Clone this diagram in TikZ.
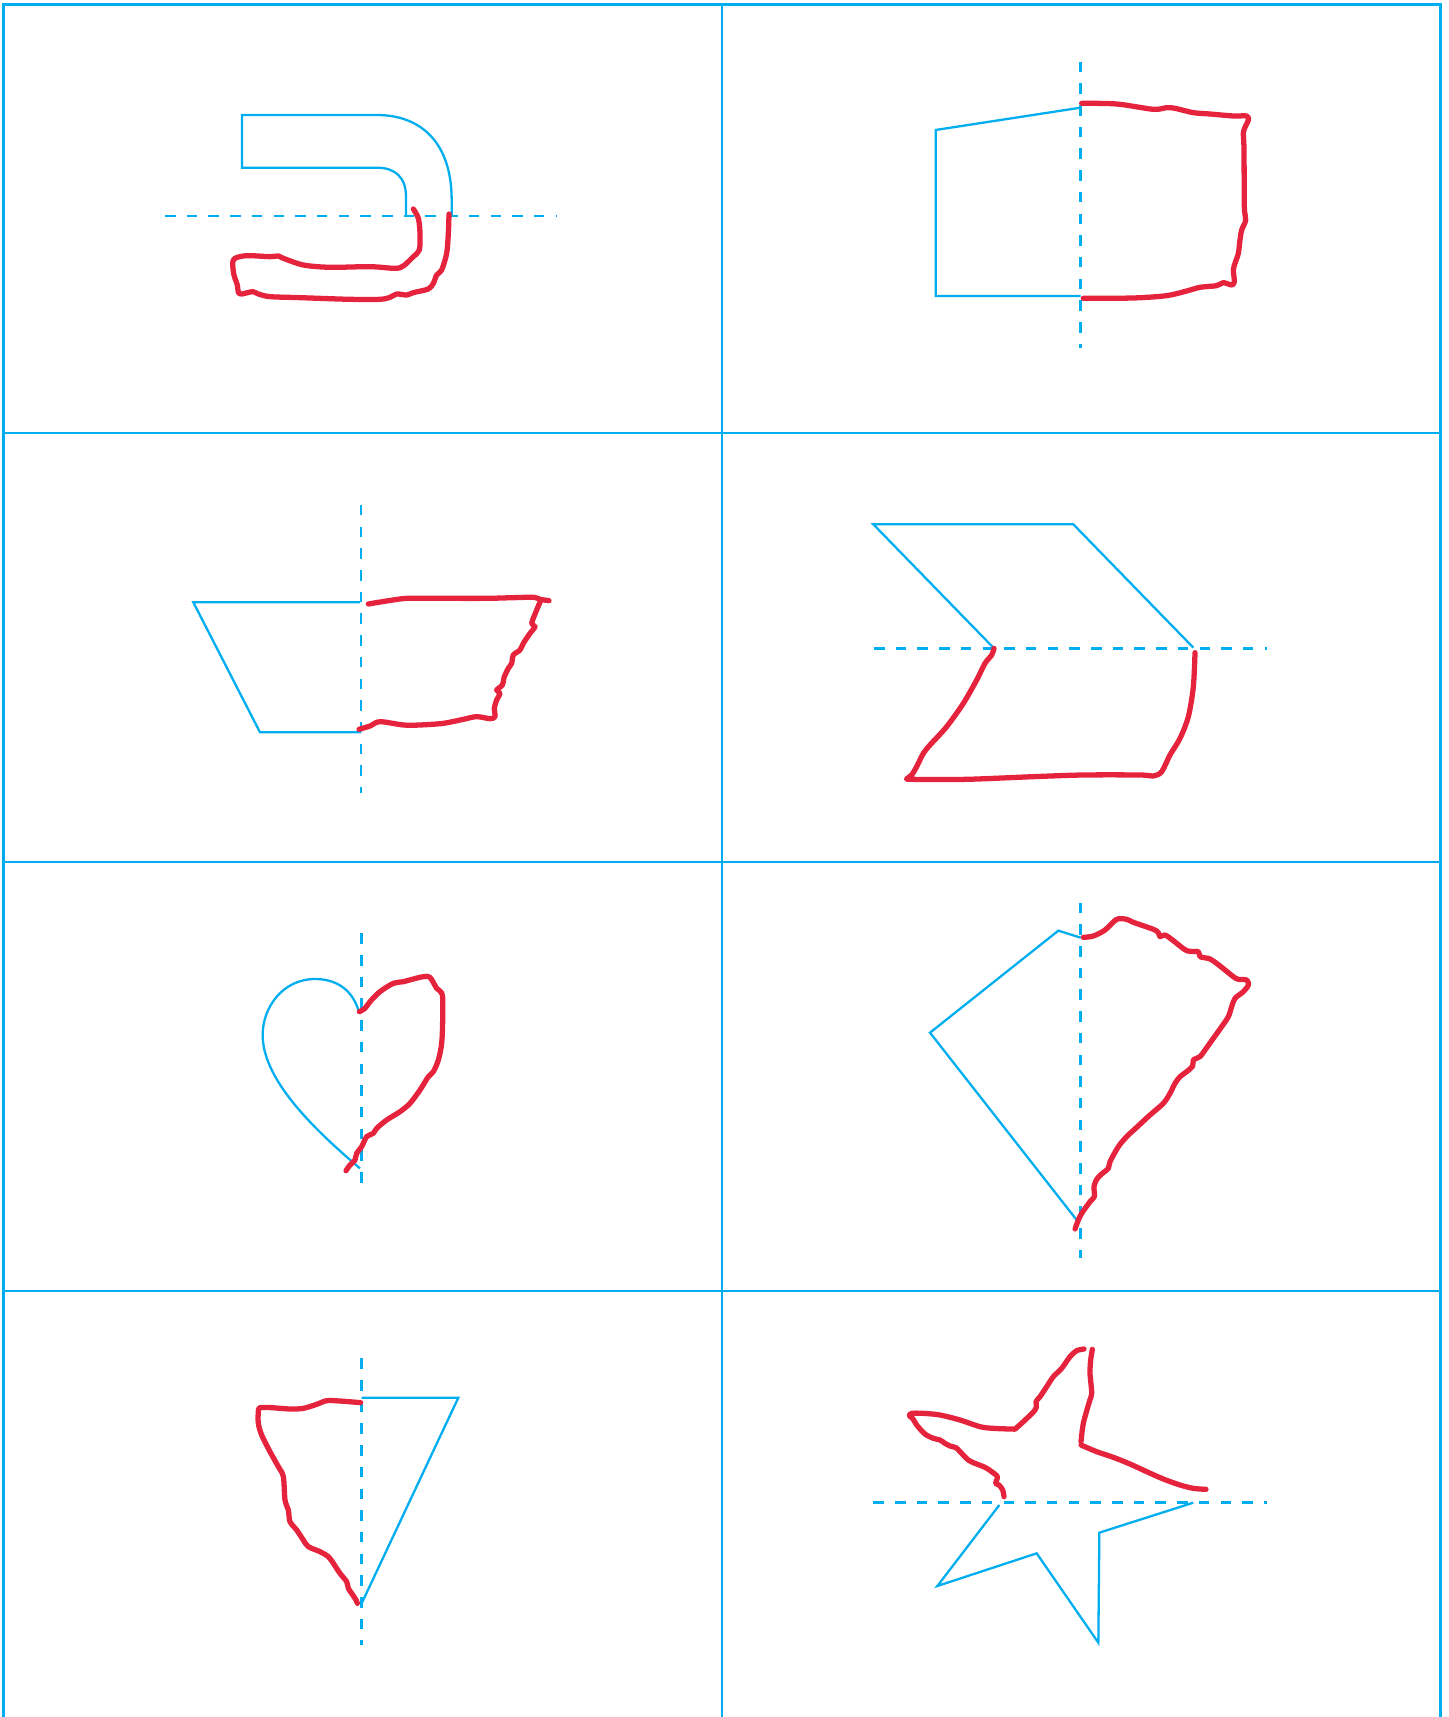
\documentclass[tikz,border=0pt]{standalone}
\usepackage{tikz}
\definecolor{SymCyan}{RGB}{0,174,239}
\definecolor{SymRed}{RGB}{230,35,60}
\tikzset{
  sym/grid/.style={draw=SymCyan, line width=0.8pt},
  sym/axis/.style={draw=SymCyan, line width=0.8pt, dash pattern=on 1.05mm off 1.12mm},
  sym/given/.style={draw=SymCyan, line width=0.65pt, line join=miter},
  sym/drawn/.style={draw=SymRed, line width=1.5pt, line cap=round, line join=round}
}

\begin{document}
\begin{tikzpicture}[x=0.1mm,y=-0.1mm]
  \useasboundingbox (0,0) rectangle (1448,1717);
  % sheet grid
  \draw[sym/grid] (3.5,1717) -- (3.5,4.5) -- (1440.7,4.5) -- (1440.7,1717);
  \draw[sym/grid] (722,4.5) -- (722,1717);
  \foreach \y in {433,862,1291}
    \draw[sym/grid] (3.5,\y) -- (1440.7,\y);

  % hook
  \begin{scope}[shift={(150,90)},scale=1/3]
    \draw[sym/axis] (45,378) -- (1220,378);
    \draw[sym/given] (768,378) -- (768,320) .. controls (768,262) and (735,233) .. (680,233)
      -- (276,233) -- (276,75) -- (680,75) .. controls (815,75) and (905,160) .. (905,330) -- (905,378);
    \draw[sym/drawn] plot[smooth,tension=0.5] coordinates {(790,357) (805,385) (810,430) (808,480)
      (790,500) (760,528) (735,535) (660,530) (540,532) (460,525) (400,505) (385,498) (360,500)
      (290,497) (255,505) (248,520) (252,555) (262,585) (265,607) (275,612) (308,605) (325,612)
      (360,620) (450,623) (600,628) (690,628) (720,622) (740,612) (770,615) (790,608) (835,597)
      (850,580) (860,555) (875,540) (890,490) (895,430) (897,372)};
  \end{scope}

  % house
  \begin{scope}[shift={(900,40)},scale=1/3]
    \draw[sym/axis] (542,65) -- (542,925);
    \draw[sym/given] (542,203) -- (107,270) -- (107,768) -- (542,768);
    \draw[sym/drawn] plot[smooth,tension=0.5] coordinates {(545,190) (650,192) (760,208) (800,203)
      (825,205) (880,218) (930,222) (1000,228) (1040,228) (1045,240) (1035,262) (1030,280)
      (1032,330) (1033,500) (1037,540) (1025,570) (1020,600) (1015,640) (1005,670) (1000,690)
      (1003,725) (995,735) (970,728) (950,737) (900,742) (860,753) (800,767) (700,774) (550,775)};
  \end{scope}

  % trapezium
  \begin{scope}[shift={(170,490)},scale=1/3]
    \draw[sym/axis] (573,45) -- (573,910);
    \draw[sym/given] (570,337) -- (70,337) -- (270,727) -- (573,727);
    \draw[sym/drawn] plot[smooth,tension=0.5] coordinates {(595,342) (650,333) (710,325) (800,325)
      (950,325) (1030,323) (1090,322) (1110,328) (1137,332)};
    \draw[sym/drawn] plot[smooth,tension=0.5] coordinates {(1112,332) (1100,360) (1085,400)
      (1095,410) (1080,430) (1060,460) (1050,480) (1030,495) (1025,520) (1015,535) (1003,560)
      (997,585) (980,600) (990,610) (980,630) (973,655) (975,680) (960,686) (920,680) (880,688)
      (820,700) (750,705) (700,705) (630,695) (600,708) (567,718)};
  \end{scope}

  % chevron
  \begin{scope}[shift={(850,500)},scale=1/3]
    \draw[sym/axis] (72,445) -- (1250,445);
    \draw[sym/given] (430,443) -- (70,73) -- (670,73) -- (1030,443);
    \draw[sym/drawn] plot[smooth,tension=0.5] coordinates {(432,445) (425,465) (405,490) (380,540)
      (340,610) (290,680) (240,735) (220,760) (200,800) (185,825) (172,835) (185,838) (350,838)
      (550,830) (700,825) (870,825) (910,828) (935,815) (960,765) (990,715) (1015,650)
      (1030,560) (1035,458)};
  \end{scope}

  % heart
  \begin{scope}[shift={(240,920)},scale=1/3]
    \draw[sym/axis] (365,40) -- (365,805);
    \draw[sym/given] (358,280) .. controls (340,210) and (290,177) .. (225,177)
      .. controls (130,177) and (68,260) .. (68,345) .. controls (68,470) and (200,610) .. (360,745);
    \draw[sym/drawn] plot[smooth,tension=0.5] coordinates {(358,275) (375,265) (390,245) (420,215)
      (460,190) (490,185) (520,177) (550,170) (570,172) (590,205) (607,225) (608,300) (605,370)
      (595,420) (580,455) (565,470) (540,510) (510,550) (480,575) (440,600) (410,625) (400,640)
      (380,650) (365,680) (350,700) (345,720) (330,735) (318,752)};
  \end{scope}

  % kite
  \begin{scope}[shift={(900,890)},scale=1/3]
    \draw[sym/axis] (542,38) -- (542,1105);
    \draw[sym/given] (542,143) -- (475,122) -- (90,428) -- (530,990);
    \draw[sym/drawn] plot[smooth,tension=0.5] coordinates {(550,142) (580,138) (615,120) (650,88)
      (680,88) (700,97) (760,118) (775,128) (780,140) (795,135) (820,152) (860,182) (895,185)
      (900,200) (930,207) (960,228) (1000,260) (1015,268) (1040,270) (1045,285) (1030,305)
      (1005,325) (995,350) (985,380) (965,410) (940,445) (915,480) (900,500) (880,510) (878,528)
      (860,545) (840,560) (825,580) (810,610) (790,640) (750,675) (710,712) (680,740) (655,770)
      (630,815) (625,835) (605,852) (590,868) (582,890) (583,920) (570,935) (545,970) (535,990)
      (525,1017)};
  \end{scope}

  % triangle
  \begin{scope}[shift={(240,1340)},scale=1/3]
    \draw[sym/axis] (365,55) -- (365,915);
    \draw[sym/given] (365,173) -- (655,173) -- (365,790);
    \draw[sym/drawn] plot[smooth,tension=0.5] coordinates {(362,188) (300,183) (260,182) (230,193)
      (190,205) (150,207) (95,203) (60,203) (55,215) (55,250) (65,285) (90,335) (115,380)
      (130,410) (135,480) (145,510) (150,545) (170,570) (190,600) (205,620) (240,635) (265,650)
      (280,670) (300,700) (320,725) (325,745) (335,760) (348,780) (352,790)};
  \end{scope}

  % star
  \begin{scope}[shift={(880,1330)},scale=1/3]
    \draw[sym/axis] (-20,518) -- (1160,518);
    \draw[sym/given] (358,525) -- (172,768) -- (470,670) -- (655,938) -- (658,608) -- (940,518);
    \draw[sym/drawn] plot[smooth,tension=0.5] coordinates {(372,500) (368,480) (357,465) (347,460)
      (352,440) (335,425) (315,412) (285,400) (265,390) (240,365) (228,353) (210,348) (195,340)
      (180,330) (160,325) (135,312) (110,285) (98,265) (88,258) (95,250) (130,250) (180,255)
      (240,270) (300,290) (340,295) (400,297) (410,293) (465,240) (468,215) (480,200) (500,170)
      (520,140) (545,115) (570,80) (590,62) (612,57)};
    \draw[sym/drawn] plot[smooth,tension=0.5] coordinates {(637,58) (632,90) (630,130) (635,190)
      (628,215) (610,280) (603,335)};
    \draw[sym/drawn] plot[smooth,tension=0.5] coordinates {(603,345) (650,365) (700,382) (750,402)
      (800,425) (850,447) (900,465) (940,475) (978,478)};
  \end{scope}
\end{tikzpicture}
\end{document}
